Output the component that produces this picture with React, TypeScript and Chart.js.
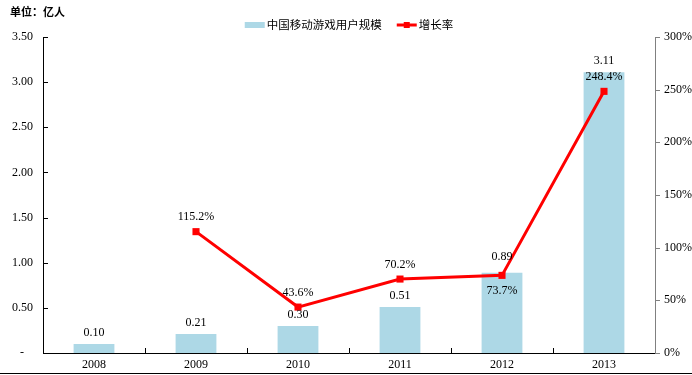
import React, { useEffect, useRef } from 'react';
import { Chart, registerables } from 'chart.js';

Chart.register(...registerables);

const years = ['2008', '2009', '2010', '2011', '2012', '2013'];
const users = [0.10, 0.21, 0.30, 0.51, 0.89, 3.11];
const growth: (number | null)[] = [null, 115.2, 43.6, 70.2, 73.7, 248.4];
const growthLabelSide = ['above', 'above', 'above', 'above', 'below', 'above'];
const unitLabel = '单位：亿人';
const barName = '中国移动游戏用户规模';
const lineName = '增长率';

const BAR_COLOR = '#ADD8E6';
const LINE_COLOR = '#FF0000';
const SERIF = '"Liberation Serif", "Times New Roman", serif';
const CJK = '"Noto Sans CJK SC", "Noto Sans", sans-serif';

const decorPlugin = {
  id: 'decor',
  afterDatasetsDraw(chart: any) {
    const { ctx } = chart;
    ctx.save();
    ctx.font = `12px ${SERIF}`;
    ctx.fillStyle = '#000';
    ctx.textAlign = 'center';
    ctx.textBaseline = 'middle';
    const barMeta = chart.getDatasetMeta(0);
    barMeta.data.forEach((el: any, i: number) => {
      const extra = growthLabelSide[i] === 'below' ? 5 : 0;
      ctx.fillText(users[i].toFixed(2), el.x, el.y - 11 - extra);
    });
    const lineMeta = chart.getDatasetMeta(1);
    lineMeta.data.forEach((el: any, i: number) => {
      const v = growth[i];
      if (v == null) return;
      const dy = growthLabelSide[i] === 'below' ? 15 : -14.5;
      ctx.fillText(v.toFixed(1) + '%', el.x, el.y + dy);
    });
    ctx.restore();
  },
  afterDraw(chart: any) {
    const { ctx, chartArea: ca, scales } = chart;
    ctx.save();
    ctx.lineWidth = 1;
    // left axis ticks (inside)
    ctx.strokeStyle = '#000';
    scales.y.ticks.forEach((_t: any, i: number) => {
      const y = Math.round(scales.y.getPixelForTick(i)) + 0.5;
      ctx.beginPath();
      ctx.moveTo(ca.left, y);
      ctx.lineTo(ca.left + 5, y);
      ctx.stroke();
    });
    // x axis ticks at category boundaries (upwards)
    for (let i = 1; i < years.length; i++) {
      const x = Math.round((scales.x.getPixelForValue(i - 1) + scales.x.getPixelForValue(i)) / 2) + 0.5;
      ctx.beginPath();
      ctx.moveTo(x, ca.bottom);
      ctx.lineTo(x, ca.bottom - 5);
      ctx.stroke();
    }
    // right axis ticks (outside, gray)
    ctx.strokeStyle = '#808080';
    scales.y1.ticks.forEach((_t: any, i: number) => {
      const y = Math.round(scales.y1.getPixelForTick(i)) + 0.5;
      ctx.beginPath();
      ctx.moveTo(ca.right, y);
      ctx.lineTo(ca.right + 5, y);
      ctx.stroke();
    });
    // bottom rule
    ctx.fillStyle = '#000';
    ctx.fillRect(0, chart.height - 2, chart.width, 1);

    // unit label
    ctx.font = `bold 11px ${CJK}`;
    ctx.textAlign = 'left';
    ctx.textBaseline = 'middle';
    ctx.fillText(unitLabel, 10, 12);

    // legend
    ctx.font = `11.5px ${CJK}`;
    const w1 = ctx.measureText(barName).width;
    const w2 = ctx.measureText(lineName).width;
    const total = 20 + 2 + w1 + 15 + 20 + 2 + w2;
    let x = (ca.left + ca.right) / 2 - total / 2;
    const ly = 25;
    ctx.fillStyle = BAR_COLOR;
    ctx.fillRect(x, ly - 3, 20, 6);
    x += 22;
    ctx.fillStyle = '#000';
    ctx.fillText(barName, x, ly);
    x += w1 + 15;
    ctx.strokeStyle = LINE_COLOR;
    ctx.lineWidth = 3;
    ctx.beginPath();
    ctx.moveTo(x, ly);
    ctx.lineTo(x + 20, ly);
    ctx.stroke();
    ctx.fillStyle = LINE_COLOR;
    ctx.fillRect(x + 7, ly - 3, 6, 6);
    x += 22;
    ctx.fillStyle = '#000';
    ctx.fillText(lineName, x, ly);
    ctx.restore();
  },
};

export default function App() {
  const ref = useRef<HTMLCanvasElement | null>(null);
  useEffect(() => {
    if (!ref.current) return;
    const chart = new Chart(ref.current, {
      type: 'bar',
      data: {
        labels: years,
        datasets: [
          {
            type: 'bar',
            label: barName,
            data: users,
            backgroundColor: BAR_COLOR,
            borderWidth: 0,
            categoryPercentage: 1,
            barPercentage: 0.4,
            yAxisID: 'y',
            order: 2,
          },
          {
            type: 'line',
            label: lineName,
            data: growth,
            borderColor: LINE_COLOR,
            backgroundColor: LINE_COLOR,
            borderWidth: 3,
            pointStyle: 'rect',
            pointRadius: 5,
            pointBorderWidth: 0,
            tension: 0,
            yAxisID: 'y1',
            order: 1,
          } as any,
        ],
      },
      options: {
        animation: false,
        responsive: false,
        devicePixelRatio: 1,
        layout: { padding: { top: 37, left: 0, right: 0, bottom: 0 } },
        plugins: { legend: { display: false }, tooltip: { enabled: false } },
        scales: {
          x: {
            grid: { display: false, drawTicks: false },
            border: { display: true, color: '#000', width: 1 },
            ticks: { color: '#000', font: { family: SERIF, size: 12 }, padding: 5 },
            afterFit: (s: any) => { s.height = 22; },
          },
          y: {
            position: 'left',
            min: 0,
            max: 3.5,
            grid: { display: false, drawTicks: false },
            border: { display: true, color: '#000', width: 1 },
            ticks: {
              stepSize: 0.5,
              color: '#000',
              font: { family: SERIF, size: 12 },
              padding: 10,
              callback: (v: any) => (Number(v) === 0 ? '-   ' : Number(v).toFixed(2)),
            },
            afterFit: (s: any) => { s.width = 43; },
          },
          y1: {
            position: 'right',
            min: 0,
            max: 300,
            grid: { display: false, drawTicks: false },
            border: { display: true, color: '#808080', width: 1 },
            ticks: {
              stepSize: 50,
              color: '#000',
              font: { family: SERIF, size: 12 },
              padding: 9,
              callback: (v: any) => `${v}%`,
            },
            afterFit: (s: any) => { s.width = 37; },
          },
        },
      },
      plugins: [decorPlugin],
    });
    return () => chart.destroy();
  }, []);
  return (
    <div style={{ position: 'absolute', left: 0, top: 0, width: 692, height: 375 }}>
      <canvas ref={ref} width={692} height={375} />
    </div>
  );
}
